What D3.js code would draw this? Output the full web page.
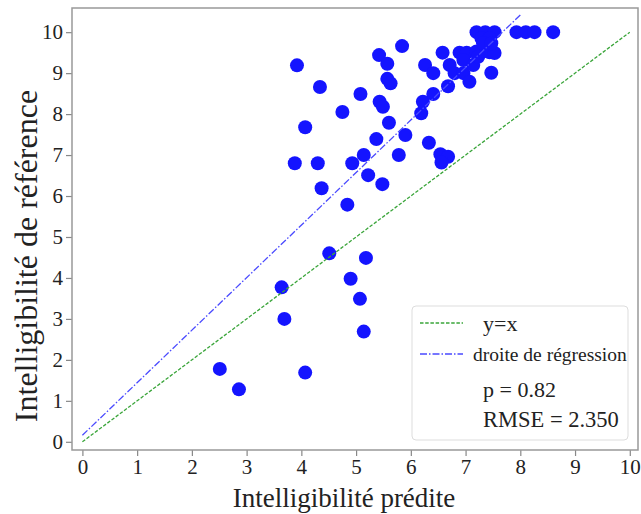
<!DOCTYPE html>
<html>
<head>
<meta charset="utf-8">
<script src="https://cdn.jsdelivr.net/npm/d3@7"></script>
<style>
  body { margin: 0; background: #fff; }
  text { font-family: "Liberation Serif", "Times New Roman", serif; fill: #222; }
</style>
</head>
<body>
<div id="chart"></div>
<script>
// Predicted vs reference intelligibility
var predicted = [2.51, 2.86, 3.64, 3.69, 4.07, 4.51, 4.90, 5.07, 5.14, 5.18,
  4.84, 4.37, 3.88, 4.30, 4.93, 5.14, 5.22, 5.48, 5.37, 5.60, 5.90, 5.78,
  4.07, 4.75, 4.34, 3.92, 5.08, 5.43, 5.49, 5.57, 5.63, 5.42, 5.57, 5.84,
  6.33, 6.54, 6.68, 6.56, 6.19, 6.22, 6.41, 6.68, 6.26, 6.41, 6.58, 6.71,
  6.80, 6.96, 7.07, 6.89, 7.02, 6.96, 7.14, 7.20, 7.23, 7.44, 7.53, 7.47,
  7.20, 7.36, 7.53, 7.29, 7.44, 7.32, 7.47, 7.93, 8.10, 8.26, 8.60]
var reference = [1.78, 1.28, 3.77, 3.00, 1.69, 4.60, 3.98, 3.49, 2.69, 4.49,
  5.79, 6.19, 6.80, 6.80, 6.80, 7.00, 6.51, 6.29, 7.39, 7.79, 7.49, 7.00,
  7.68, 8.05, 8.66, 9.19, 8.49, 8.30, 8.18, 8.86, 8.75, 9.44, 9.23, 9.66,
  7.30, 7.02, 6.96, 6.82, 8.02, 8.30, 8.49, 8.68, 9.20, 9.00, 9.50, 9.20,
  9.00, 9.00, 8.79, 9.50, 9.50, 9.32, 9.20, 9.53, 9.40, 9.51, 9.49, 9.01,
  10, 10, 10, 9.85, 9.85, 9.73, 9.73, 10, 10, 10, 10]

var identityLine = [[0, 0], [10, 10]]
var regressionLine = [[0, 0.16], [8, 10.42]]
var xTicks = [0, 1, 2, 3, 4, 5, 6, 7, 8, 9, 10]
var yTicks = [0, 1, 2, 3, 4, 5, 6, 7, 8, 9, 10]
var legendNames = ["y=x", "droite de régression"]
var statsText = ["p = 0.82", "RMSE = 2.350"]

var margin = {top: 8, right: 3, bottom: 64, left: 72}
var width = 641 - margin.left - margin.right
var height = 514 - margin.top - margin.bottom

var x = d3.scaleLinear().domain([-0.19, 10.15]).range([0, width])
var y = d3.scaleLinear().domain([-0.2, 10.59]).range([height, 0])

var svg = d3.select('#chart').append('svg')
  .attr("width", 641)
  .attr("height", 514)
  .append("g")
  .attr("transform", "translate(" + margin.left + "," + margin.top + ")")

// Axes
var xAxis = svg.append('g')
  .attr('transform', `translate(0, ${height})`)
  .call(d3.axisBottom(x).tickValues(xTicks).tickSize(6).tickPadding(3))
var yAxis = svg.append('g')
  .call(d3.axisLeft(y).tickValues(yTicks).tickSize(6).tickPadding(3))

;[xAxis, yAxis].forEach(function(a) {
  a.select('.domain').remove()
  a.selectAll('line').attr('stroke', '#888').attr('stroke-width', 1.2)
  a.selectAll('text').style('font-size', '21px').attr('fill', '#222')
})

// Frame
svg.append('rect')
  .attr('width', width).attr('height', height)
  .attr('fill', 'none').attr('stroke', '#999').attr('stroke-width', 1.5)

var line = d3.line()
  .x(function(d) { return x(d[0]) })
  .y(function(d) { return y(d[1]) })

// Points
svg.append('g').selectAll('circle')
  .data(predicted)
  .enter().append('circle')
  .attr('cx', function(d) { return x(d) })
  .attr('cy', function(d, i) { return y(reference[i]) })
  .attr('r', 7)
  .attr('fill', '#1414ff')

// Lines
svg.append("path").datum(identityLine)
  .attr("d", line).attr('fill', 'none')
  .attr('stroke', '#3aa53a').attr('stroke-width', 1.3)
  .attr('stroke-dasharray', '3.5,1.7')

svg.append("path").datum(regressionLine)
  .attr("d", line).attr('fill', 'none')
  .attr('stroke', '#4a4aff').attr('stroke-width', 1.3)
  .attr('stroke-dasharray', '7,2,1.5,2')

// Legend
var lg = svg.append('g').attr('transform', 'translate(340, 298)')
lg.append('rect')
  .attr('width', 216).attr('height', 134).attr('rx', 4)
  .attr('fill', '#fff').attr('fill-opacity', 0.85)
  .attr('stroke', '#ddd').attr('stroke-width', 1)

lg.append('line').attr('x1', 8).attr('x2', 51).attr('y1', 17).attr('y2', 17)
  .attr('stroke', '#3aa53a').attr('stroke-width', 1.3).attr('stroke-dasharray', '3.5,1.7')
lg.append('line').attr('x1', 8).attr('x2', 51).attr('y1', 48).attr('y2', 48)
  .attr('stroke', '#4a4aff').attr('stroke-width', 1.3).attr('stroke-dasharray', '7,2,1.5,2')

lg.append('text').attr('x', 71).attr('y', 25).style('font-size', '22px').text(legendNames[0])
lg.append('text').attr('x', 61).attr('y', 55).style('font-size', '19.5px').text(legendNames[1])
lg.append('text').attr('x', 71).attr('y', 91).style('font-size', '22px').text(statsText[0])
lg.append('text').attr('x', 71).attr('y', 121).style('font-size', '22.5px').text(statsText[1])

// Axis labels
svg.append('text')
  .attr('x', 272).attr('y', 499)
  .attr('text-anchor', 'middle').style('font-size', '27px')
  .text('Intelligibilité prédite')

svg.append('text')
  .attr('transform', 'translate(-35,248) rotate(-90)')
  .attr('text-anchor', 'middle').style('font-size', '32px')
  .text('Intelligibilité de référence')
</script>
</body>
</html>
